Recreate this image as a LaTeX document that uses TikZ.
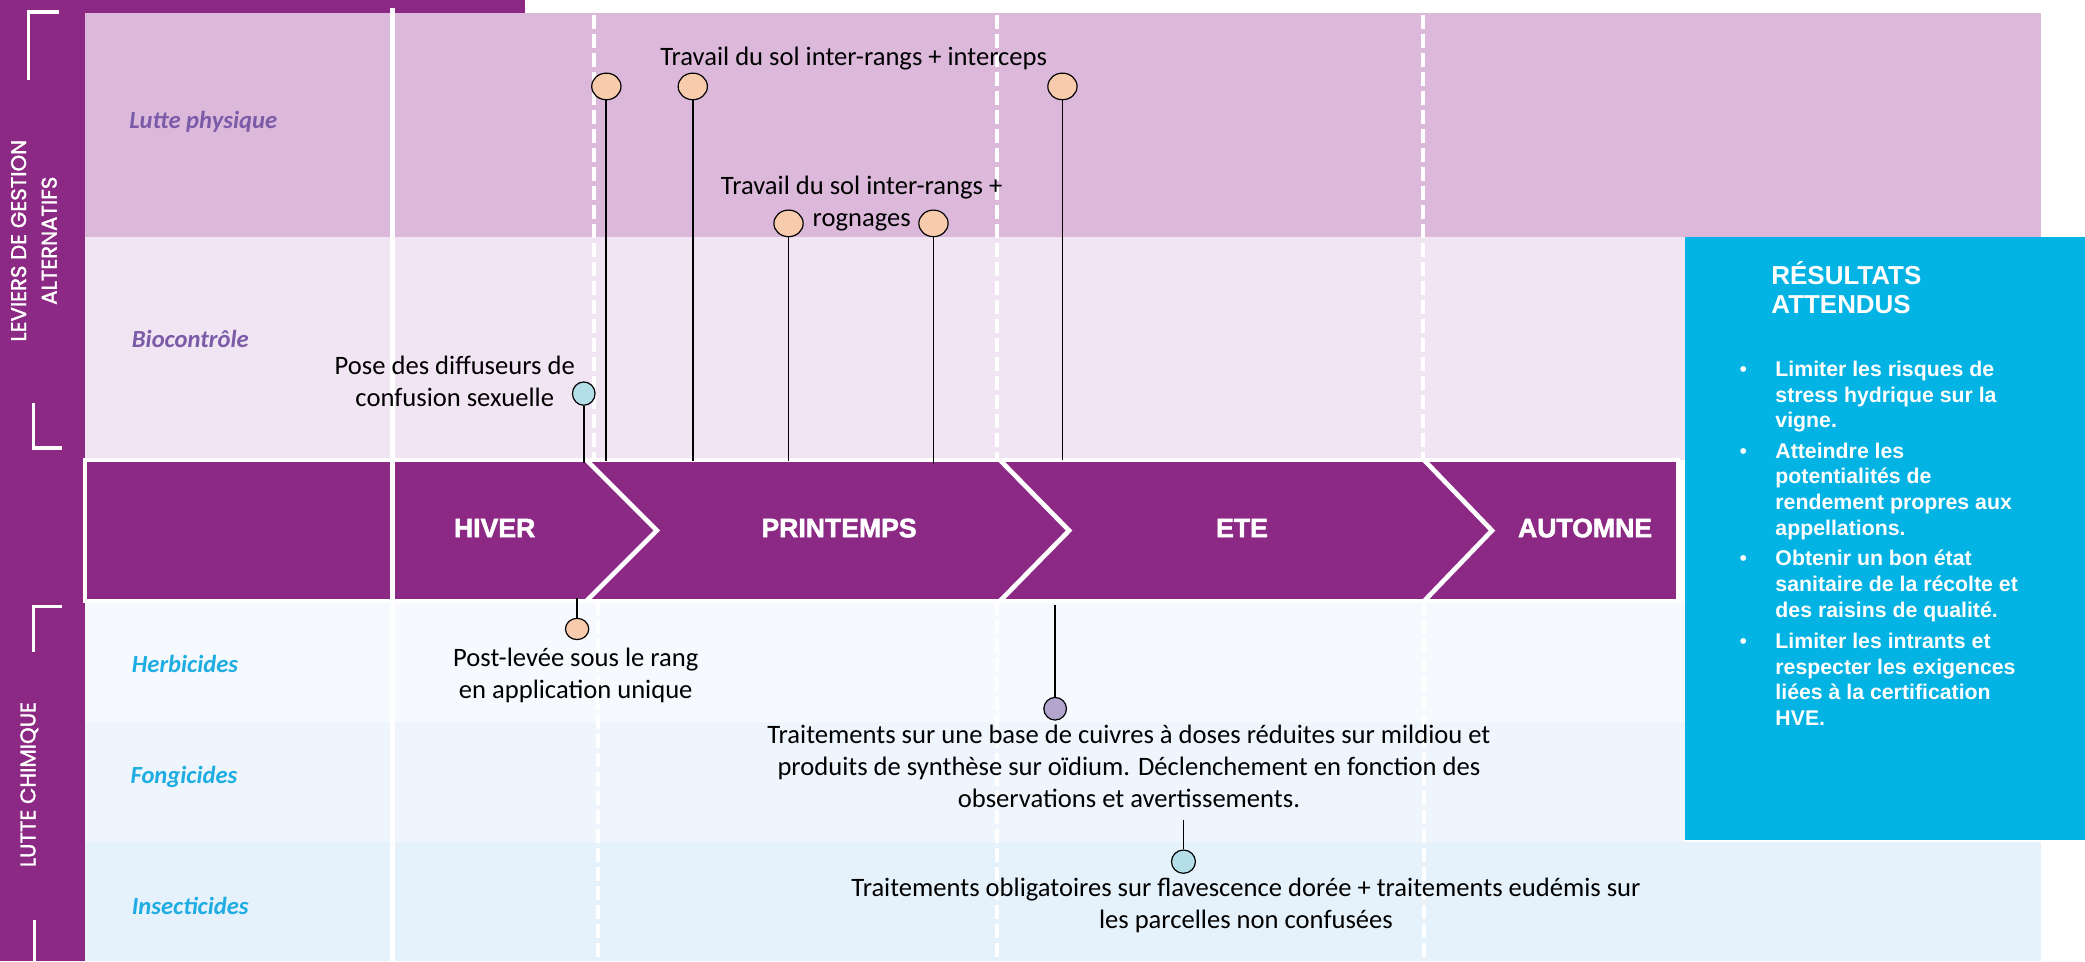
\documentclass[tikz,border=0pt]{standalone}
\usepackage{fontspec}
\setmainfont{Carlito}
\newfontfamily\arialf{Liberation Sans}
\newfontfamily\popf{Poppins}
\usetikzlibrary{shapes.geometric}
\definecolor{mpurple}{HTML}{8B2984}
\definecolor{rowA}{HTML}{DCB9DB}
\definecolor{rowB}{HTML}{F1E5F3}
\definecolor{rowC}{HTML}{F6FAFE}
\definecolor{rowD}{HTML}{EEF5FC}
\definecolor{rowE}{HTML}{E6F2FB}
\definecolor{resblue}{HTML}{02B3E4}
\definecolor{lblpurple}{HTML}{7B5BA8}
\definecolor{lblcyan}{HTML}{1EADE3}
\definecolor{peach}{HTML}{F8CBAD}
\definecolor{pinblue}{HTML}{B4DEE8}
\definecolor{lavender}{HTML}{B4A5CF}
\tikzset{
  dashw/.style={white, line width=3pt, dash pattern=on 10.5pt off 3.8pt},
  sepw/.style={white, line width=3.5pt},
  brk/.style={white, line width=2.5pt},
  barbox/.style={draw=white, line width=3.5pt, fill=mpurple, minimum width=1198pt, minimum height=106pt, inner sep=0pt},
  season/.style={font=\arialf\bfseries\addfontfeatures{FakeBold=2}\fontsize{20}{24}\selectfont, text=white, inner sep=0pt, anchor=base},
  rowlbl/.style={font=\bfseries\itshape\fontsize{18.5}{22}\selectfont, inner sep=0pt, anchor=base west},
  sidelbl/.style={font=\popf\addfontfeatures{FakeBold=1.5}\fontsize{16}{23}\selectfont, text=white, rotate=90, align=center, inner sep=0pt},
  lbl/.style={font=\fontsize{20}{24}\selectfont, align=center, inner sep=0pt, anchor=base},
  pinbase/.style={draw=black, line width=0.9pt, ellipse, inner sep=0pt},
  pinbig/.style={pinbase, fill=peach, minimum width=22pt, minimum height=20pt},
  stem/.style={black, line width=1.3pt},
  reshead/.style={font=\arialf\bfseries\fontsize{19.5}{22}\selectfont, text=white, align=left, inner sep=0pt, anchor=base west},
  resitem/.style={font=\arialf\bfseries\fontsize{16}{19.4}\selectfont, text=white, align=left, inner sep=0pt, anchor=base west},
  bul/.style={font=\arialf\fontsize{16}{19.4}\selectfont, text=white, inner sep=0pt, anchor=base}
}
\begin{document}
\begin{tikzpicture}[x=1pt,y=1pt]
\useasboundingbox (0,0) rectangle (1568,-723);
% backgrounds
\fill[mpurple] (0,0) rectangle (64,-723);
\fill[mpurple] (0,0) rectangle (395,-12);
\fill[rowA] (64,-10) rectangle (1535,-178);
\fill[rowB] (64,-178) rectangle (1267,-346);
\fill[rowC] (64,-452) rectangle (1267,-543);
\fill[rowD] (64,-543) rectangle (1267,-633);
\fill[rowE] (64,-633) rectangle (1535,-723);
\fill[resblue] (1267,-178) rectangle (1568,-632);
% dashed separators
\draw[dashw] (447,-11) -- (447,-346);
\draw[dashw] (750,-11) -- (750,-346);
\draw[dashw] (1070,-11) -- (1070,-346);
\draw[dashw] (450,-452) -- (450,-723);
\draw[dashw] (750,-452) -- (750,-723);
\draw[dashw] (1071,-452) -- (1071,-723);
% season bar
\node[barbox] (bar) at (663,-399) {};
\draw[sepw] (295,-6) -- (295,-723);
\draw[sepw, line join=miter] (441,-346) -- (494,-399) -- (441,-452);
\draw[sepw, line join=miter] (752,-346) -- (804,-399) -- (752,-452);
\draw[sepw, line join=miter] (1071,-346) -- (1122,-399) -- (1071,-452);
\node[season] (hiver) at (372,-404) {HIVER};
\node[season] (printemps) at (631,-404) {PRINTEMPS};
\node[season] (ete) at (934,-404) {ETE};
\node[season] (automne) at (1192,-404) {AUTOMNE};
% side labels and brackets
\node[sidelbl] (leviers) at (25.5,-181) {LEVIERS DE GESTION\\ALTERNATIFS};
\node[sidelbl] (lutte) at (22,-590) {LUTTE CHIMIQUE};
\draw[brk] (44,-9) -- (21.5,-9) -- (21.5,-60);
\draw[brk] (25,-303) -- (25,-337) -- (47,-337);
\draw[brk] (47,-456) -- (25,-456) -- (25,-490);
\draw[brk] (26,-692) -- (26,-723);
% row labels
\node[rowlbl, text=lblpurple] (lphys) at (97,-96.5) {Lutte physique};
\node[rowlbl, text=lblpurple] (bioc) at (99,-261) {Biocontrôle};
\node[rowlbl, text=lblcyan] (herb) at (99,-506) {Herbicides};
\node[rowlbl, text=lblcyan] (fong) at (98,-589) {Fongicides};
\node[rowlbl, text=lblcyan] (insect) at (99,-687.5) {Insecticides};
% pins
\node[pinbig] (p1) at (456,-65) {};
\node[pinbig] (p2) at (521,-65) {};
\node[pinbig] (p3) at (799,-65) {};
\node[pinbig] (p4) at (593,-168) {};
\node[pinbig] (p5) at (702,-168) {};
\node[pinbase, fill=pinblue, minimum width=17pt, minimum height=17.5pt] (pb) at (439,-296) {};
\node[pinbase, fill=peach, minimum width=17.5pt, minimum height=16pt] (ph) at (434,-473) {};
\node[pinbase, fill=lavender, minimum width=17pt, minimum height=17pt] (pf) at (793.5,-533) {};
\node[pinbase, fill=pinblue, minimum width=18pt, minimum height=17.5pt] (pi) at (890,-648) {};
\coordinate (s1) at (456,-347);
\coordinate (s2) at (521,-347);
\coordinate (s3) at (799,-346);
\coordinate (s4) at (593,-347);
\coordinate (s5) at (702,-349);
\coordinate (sb) at (439,-348);
\coordinate (sh) at (434,-450);
\coordinate (sf) at (793.5,-455);
\coordinate (si) at (890,-617);
\draw[stem] (p1) -- (s1);
\draw[stem] (p2) -- (s2);
\draw[stem] (p3) -- (s3);
\draw[stem] (p4) -- (s4);
\draw[stem] (p5) -- (s5);
\draw[stem] (pb) -- (sb);
\draw[stem] (sh) -- (ph);
\draw[stem] (sf) -- (pf);
\draw[stem] (si) -- (pi);
% labels (anchor base = baseline of last line)
\node[lbl] (t1) at (642,-49) {Travail du sol inter-rangs + interceps};
\node[lbl] (t2) at (648,-170) {Travail du sol inter-rangs +\\rognages};
\node[lbl] (t3) at (342,-306) {Pose des diffuseurs de\\confusion sexuelle};
\node[lbl] (t4) at (433,-525) {Post-levée sous le rang\\en application unique};
\node[lbl] (t5) at (849,-607) {Traitements sur une base de cuivres à doses réduites sur mildiou et\\produits de synthèse sur oïdium. Déclenchement en fonction des\\observations et avertissements.};
\node[lbl] (t6) at (937,-698) {Traitements obligatoires sur flavescence dorée + traitements eudémis sur\\les parcelles non confusées};
% results box
\node[reshead] (res) at (1332,-236) {RÉSULTATS\\ATTENDUS};
\node[bul] (b1) at (1311,-283) {•};
\node[bul] (b2) at (1311,-344.5) {•};
\node[bul] (b3) at (1311,-425.5) {•};
\node[bul] (b4) at (1311,-487.5) {•};
\node[resitem] (r1) at (1335,-321.8) {Limiter les risques de\\stress hydrique sur la\\vigne.};
\node[resitem] (r2) at (1335,-402.7) {Atteindre les\\potentialités de\\rendement propres aux\\appellations.};
\node[resitem] (r3) at (1335,-464.3) {Obtenir un bon état\\sanitaire de la récolte et\\des raisins de qualité.};
\node[resitem] (r4) at (1335,-545.7) {Limiter les intrants et\\respecter les exigences\\liées à la certification\\HVE.};
\end{tikzpicture}
\end{document}
